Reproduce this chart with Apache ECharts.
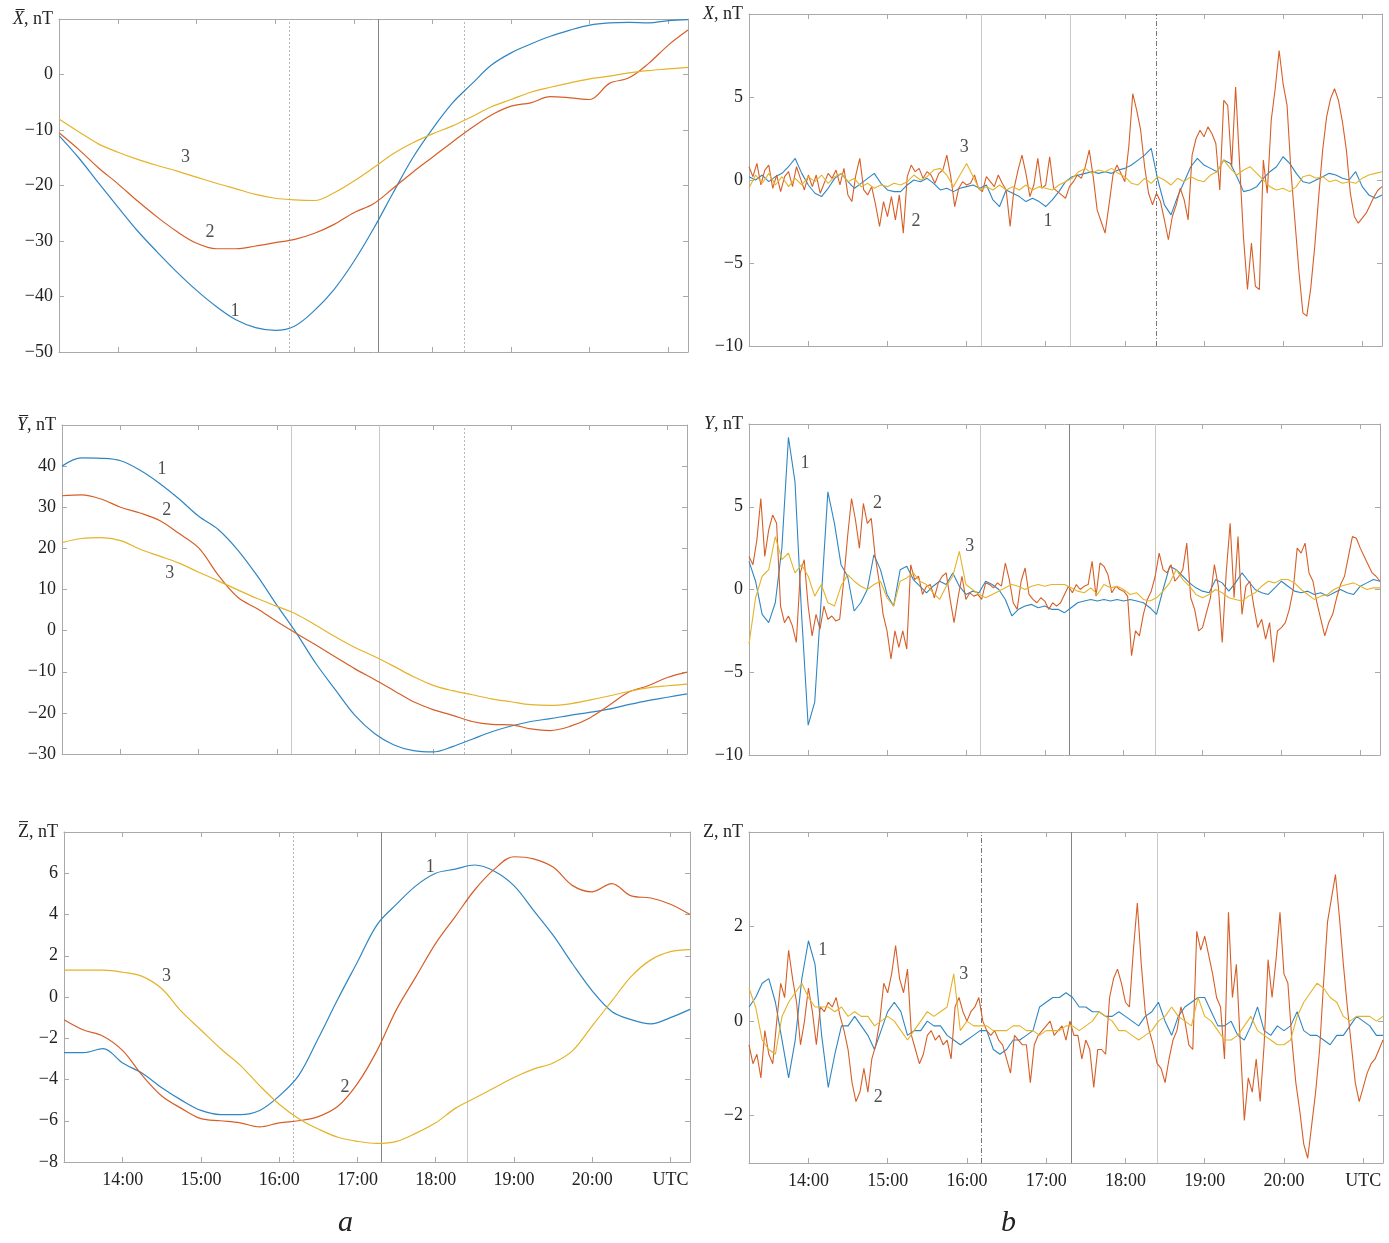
<!DOCTYPE html>
<html><head><meta charset="utf-8">
<script src="https://cdn.jsdelivr.net/npm/echarts@6/dist/echarts.min.js"></script>
<style>html,body{margin:0;padding:0;background:#fff}#c{width:1389px;height:1243px}</style>
</head><body><div id="c"></div>
<script>
// ---------- DATA ----------
const T0 = 13.25, T1 = 21.25;          // time span, hours UTC
const stepCoarse = 0.25;               // 15 min (panel a)
const stepMid = 1 / 12;                // 5 min
const stepFine = 0.05;                 // 3 min
const eventTimes = [16.18, 17.31, 18.40];
const hourTicks = [14, 15, 16, 17, 18, 19, 20, 21];
const hourLabels = ['14:00', '15:00', '16:00', '17:00', '18:00', '19:00', '20:00', 'UTC'];

// panel a : smoothed field (15-min samples)
const xBar1 = [-11.0,-15.0,-19.5,-23.9,-28.2,-32.0,-35.6,-38.9,-41.8,-44.2,-45.6,-46.1,-45.3,-42.5,-38.7,-33.7,-27.8,-21.3,-15.0,-9.8,-5.2,-1.7,1.7,3.9,5.5,6.9,8.0,8.9,9.3,9.4,9.3,9.7,9.9];
const xBar2 = [-10.5,-13.5,-16.8,-19.7,-22.8,-25.7,-28.3,-30.4,-31.4,-31.4,-30.9,-30.3,-29.7,-28.6,-27.0,-24.9,-23.3,-20.5,-17.6,-14.9,-12.2,-9.6,-7.3,-5.7,-5.1,-4.0,-4.2,-4.5,-1.6,-0.6,2.0,5.3,8.0];
const xBar3 = [-8.0,-10.3,-12.5,-14.0,-15.3,-16.4,-17.4,-18.5,-19.6,-20.6,-21.6,-22.3,-22.6,-22.7,-21.3,-19.2,-16.8,-14.3,-12.3,-10.7,-9.3,-7.6,-5.8,-4.5,-3.2,-2.3,-1.5,-0.8,-0.3,0.3,0.7,1.0,1.3];
const yBar1 = [40.0,42.0,41.9,41.3,39.0,35.8,32.0,27.8,24.6,19.6,13.3,6.2,-0.6,-8.0,-14.4,-20.6,-25.0,-27.8,-29.2,-29.5,-28.2,-26.4,-24.6,-23.2,-22.1,-21.4,-20.6,-19.9,-19.1,-18.0,-17.0,-16.2,-15.4];
const yBar2 = [32.8,33.0,32.0,30.0,28.6,26.8,23.6,20.1,13.5,8.1,5.3,2.2,-0.7,-3.5,-6.4,-9.3,-11.9,-14.6,-17.3,-19.2,-20.6,-22.1,-22.8,-22.9,-23.9,-24.3,-23.3,-21.3,-18.2,-15.0,-13.4,-11.4,-10.1];
const yBar3 = [21.4,22.4,22.6,21.9,19.8,18.1,16.4,14.2,12.1,9.9,7.8,5.9,4.0,1.3,-1.5,-4.1,-6.3,-8.7,-11.2,-13.3,-14.6,-15.6,-16.6,-17.3,-18.0,-18.2,-17.8,-16.9,-15.9,-14.8,-13.9,-13.4,-13.0];
const zBar1 = [-2.7,-2.7,-2.5,-3.2,-3.7,-4.4,-5.0,-5.5,-5.7,-5.7,-5.5,-4.8,-3.8,-2.0,-0.1,1.7,3.5,4.5,5.4,6.0,6.2,6.4,6.1,5.4,4.2,3.0,1.6,0.3,-0.7,-1.1,-1.3,-1.0,-0.6];
const zBar2 = [-1.1,-1.6,-1.9,-2.6,-3.8,-4.8,-5.4,-5.9,-6.0,-6.1,-6.3,-6.1,-6.0,-5.8,-5.3,-4.2,-2.6,-0.6,1.0,2.6,3.9,5.2,6.2,6.8,6.7,6.3,5.4,5.1,5.5,4.9,4.8,4.5,4.0];
const zBar3 = [1.3,1.3,1.3,1.2,1.0,0.4,-0.7,-1.6,-2.5,-3.3,-4.3,-5.2,-5.9,-6.4,-6.8,-7.0,-7.1,-7.0,-6.6,-6.1,-5.4,-4.9,-4.4,-3.9,-3.5,-3.2,-2.6,-1.4,-0.2,1.0,1.8,2.2,2.3];

// panel b : variations. series 1 & 3 at 5-min, series 2 at 3-min
const xVar1 = [0.2,0.0,0.3,-0.1,0.2,0.4,0.8,1.3,0.4,-0.3,-0.8,-1.0,
 -0.5,0.1,0.4,-0.1,-0.5,-0.2,0.1,0.4,-0.2,-0.6,-0.7,-0.7,
 -0.3,0.0,-0.1,0.1,-0.2,-0.6,-0.5,-0.7,-0.5,-0.4,-0.3,-0.5,
 -0.3,-1.2,-1.6,-0.6,-0.8,-1.0,-1.3,-1.1,-1.3,-1.6,-1.2,-0.7,
 -0.1,0.2,0.3,0.4,0.5,0.4,0.5,0.4,0.6,0.7,0.9,1.2,
 1.5,1.9,0.0,-1.5,-2.1,-1.0,-0.1,0.8,1.3,0.9,0.7,0.5,
 1.2,1.0,0.2,-0.7,-0.6,-0.4,0.1,0.5,0.8,1.4,1.0,0.4,
 -0.1,-0.2,0.0,0.2,0.4,0.3,0.1,0.0,0.5,-0.4,-0.9,-1.1,-0.9];
const xVar2 = [0.8,0.2,1.0,-0.3,0.6,0.9,-0.5,0.3,-0.7,0.2,0.5,-0.4,0.8,0.1,-0.6,0.3,
 -0.4,0.3,-0.8,-0.2,0.4,0.1,0.6,-0.3,0.7,-0.9,-1.3,0.3,1.3,-0.6,-0.9,-0.4,-1.5,-2.8,-1.3,-2.2,
 -1.0,-2.4,-0.9,-3.2,0.2,0.9,0.5,0.7,0.1,0.5,0.3,-0.2,0.4,0.6,1.5,0.2,-1.6,-0.5,-0.1,-0.3,
 -0.2,0.3,-0.5,-0.7,0.2,-0.1,-0.4,0.3,-0.2,-0.6,-2.8,-0.5,0.6,1.5,0.4,-1.0,-0.3,1.3,-0.5,-0.3,
 1.4,-0.5,-0.7,-0.9,-1.1,-0.4,-0.1,0.3,0.1,0.8,1.8,0.2,-1.8,-2.5,-3.2,-1.5,0.3,0.9,0.4,-0.1,
 2.0,5.2,4.2,3.0,0.8,-0.8,-1.5,-0.8,-1.3,-2.4,-3.6,-2.2,-1.5,-0.5,-1.2,-2.4,1.5,2.5,3.0,2.6,
 3.2,2.8,2.2,-0.6,4.8,4.5,0.8,5.6,1.0,-3.5,-6.6,-3.8,-6.4,-6.6,1.2,-0.8,3.6,5.5,7.8,5.8,
 4.5,0.5,-2.5,-5.5,-8.0,-8.2,-6.5,-4.0,-1.0,1.8,3.8,4.9,5.5,4.8,3.5,1.8,-0.8,-2.2,-2.6,-2.3,-2.0,-1.5,-1.0,-0.6,-0.4];
const xVar3 = [-0.5,0.3,-0.2,0.4,-0.3,0.2,-0.4,0.1,-0.3,0.2,-0.1,0.3,
 -0.2,0.2,0.4,-0.1,0.1,-0.4,-0.2,-0.5,-0.3,-0.4,-0.2,-0.3,
 -0.1,0.3,0.0,0.2,0.6,0.7,0.3,-0.4,0.3,1.0,0.2,-0.6,
 -0.4,-0.6,-0.3,-0.6,-0.4,-0.6,-0.3,-0.6,-0.4,-0.5,-0.6,-0.3,
 -0.1,0.1,0.5,0.7,0.4,0.6,0.5,0.7,0.4,0.2,-0.2,-0.3,
 0.1,-0.2,0.2,0.0,-0.3,0.1,-0.1,0.2,0.0,-0.1,0.3,0.5,
 1.2,0.7,0.3,0.6,0.8,0.4,0.0,-0.4,-0.6,-0.5,-0.7,-0.4,
 0.2,0.3,0.1,0.2,-0.1,0.0,-0.2,-0.1,-0.2,0.1,0.3,0.4,0.5];
const yVar1 = [1.7,0.5,-1.5,-2.0,-0.8,2.5,9.2,6.5,-1.5,-8.2,-6.8,-0.5,
 5.9,4.0,1.5,0.8,-1.3,-0.8,0.0,2.1,1.2,-0.3,-1.0,1.2,
 1.4,0.6,0.2,-0.2,0.2,0.5,0.3,1.0,0.2,-0.3,-0.1,-0.2,
 0.5,0.3,0.0,-0.6,-1.6,-1.2,-1.0,-0.9,-1.1,-1.0,-1.2,-1.2,
 -1.4,-1.1,-0.8,-0.7,-0.6,-0.7,-0.6,-0.7,-0.6,-0.7,-0.6,-0.7,
 -0.8,-1.1,-1.5,0.0,1.4,1.2,0.8,0.4,0.1,-0.1,-0.2,0.6,
 0.4,-0.1,0.4,1.0,0.5,0.0,-0.2,-0.3,0.1,0.5,0.2,-0.1,
 -0.2,-0.1,-0.3,-0.2,-0.4,-0.2,0.0,-0.2,-0.3,0.2,0.4,0.6,0.5];
const yVar2 = [2.0,1.5,3.0,5.5,2.0,3.6,4.5,4.0,-1.0,-2.0,-1.6,-2.2,-3.2,1.0,1.8,-1.0,
 -2.8,-1.5,-2.4,-1.0,-1.8,-1.6,-1.9,-1.8,0.5,3.2,5.5,4.2,2.5,5.2,4.0,4.3,2.0,0.5,-1.5,-2.5,
 -4.2,-2.5,-3.5,-2.5,-3.6,1.5,0.6,0.8,-0.3,0.2,0.3,-0.5,0.4,0.8,1.0,-0.6,-2.0,-0.5,0.8,-0.6,
 -0.2,-0.4,-0.3,-0.6,0.4,0.3,0.1,0.4,0.2,1.6,0.6,-0.8,-1.2,0.5,1.3,-0.3,-0.6,-0.8,-0.5,-0.7,
 -1.2,-0.8,-1.0,-0.8,-0.3,0.2,-0.2,0.3,0.0,0.2,0.3,1.7,-0.4,1.6,1.4,0.9,-0.2,0.2,0.0,-0.1,
 -0.4,-4.0,-2.5,-2.8,-1.5,-0.6,-0.1,0.8,2.2,1.2,1.0,1.5,0.5,0.8,1.2,2.8,-0.5,-1.2,-2.5,-2.3,
 -1.4,-0.5,1.5,0.2,-3.2,1.0,4.0,-0.5,3.2,-1.5,0.2,0.5,-1.0,-2.3,-1.8,-3.0,-2.0,-4.4,-2.5,-2.3,
 -2.0,-1.2,0.0,2.5,2.2,2.8,1.0,0.5,-0.8,-1.8,-2.8,-2.0,-1.5,-0.5,0.3,0.8,2.0,3.2,3.1,2.5,2.0,1.5,1.0,0.8,0.5];
const yVar3 = [-3.3,-0.5,0.8,1.2,3.2,1.8,2.2,1.0,1.5,0.8,-0.4,0.3,
 -0.8,-1.0,0.2,0.9,0.5,0.2,0.0,0.3,0.5,-0.5,-1.0,0.5,
 0.7,1.0,0.5,0.3,-0.2,-0.6,0.2,0.8,2.3,0.3,0.0,-0.3,
 -0.5,-0.3,-0.1,0.1,0.3,0.2,0.0,0.2,0.3,0.2,0.3,0.3,
 0.3,0.1,-0.1,-0.2,0.1,-0.3,0.3,0.1,0.2,0.0,-0.3,-0.2,
 -0.6,-0.7,-0.5,-0.1,0.4,1.2,0.6,0.2,-0.3,-0.5,-0.3,0.0,
 -0.2,-0.5,-0.6,-0.7,-0.4,-0.2,0.2,0.5,0.4,0.6,0.6,0.4,
 0.0,-0.3,-0.6,-0.4,-0.3,0.0,0.2,0.3,0.4,0.2,0.0,0.1,0.1];
const zVar1 = [0.3,0.5,0.8,0.9,0.4,-0.4,-1.2,-0.4,0.9,1.7,1.2,-0.3,
 -1.4,-0.7,-0.1,-0.1,0.1,-0.1,-0.3,-0.6,-0.2,0.2,0.4,0.2,
 -0.3,-0.2,-0.2,0.0,-0.1,-0.1,-0.3,-0.4,-0.5,-0.4,-0.3,-0.2,
 -0.2,-0.6,-0.7,-0.6,-0.4,-0.4,-0.3,-0.2,0.3,0.4,0.5,0.5,
 0.6,0.5,0.3,0.3,0.2,0.2,0.1,0.1,0.2,0.1,0.0,-0.1,
 0.1,0.2,0.4,0.0,-0.3,0.1,0.3,0.4,0.5,0.5,0.2,-0.1,
 -0.1,0.0,-0.3,-0.4,-0.1,0.3,-0.2,-0.3,-0.1,-0.2,-0.1,0.2,
 -0.2,-0.3,-0.3,-0.4,-0.5,-0.3,-0.3,-0.1,0.1,0.0,-0.1,-0.3,-0.3];
const zVar2 = [-0.5,-0.9,-0.7,-1.2,-0.2,-0.7,-0.9,0.0,0.8,0.5,1.5,0.9,0.4,-0.5,0.0,0.7,
 0.2,-0.5,0.3,0.2,0.4,0.3,0.5,0.1,-0.2,-0.6,-1.3,-1.7,-1.5,-1.0,-1.5,-0.8,-0.5,0.0,0.8,0.6,
 1.0,1.6,0.9,0.6,1.1,-0.3,-0.6,-0.9,-0.7,-0.3,-0.2,-0.4,-0.3,-0.5,-0.4,-0.8,0.3,0.5,0.2,0.0,
 0.2,0.3,0.5,0.0,-0.2,-0.3,-0.2,-0.4,-0.5,-0.8,-1.1,-0.3,-0.4,-0.5,-0.5,-1.3,-0.5,-0.3,-0.2,-0.1,
 0.0,-0.3,-0.2,-0.1,-0.4,0.0,-0.3,-0.3,-0.8,-0.4,-0.6,-1.4,-0.6,-0.6,-0.7,0.5,0.9,1.1,0.8,0.4,
 0.3,1.5,2.5,1.2,0.2,-0.2,-0.5,-0.9,-1.0,-1.3,-0.8,-0.4,-0.2,0.3,0.0,-0.5,-0.6,1.9,1.5,1.8,
 1.4,1.0,0.5,0.3,-0.8,2.3,0.5,1.2,-0.5,-2.1,-1.2,-1.5,-0.8,-1.7,-0.5,1.3,0.5,1.3,2.3,1.0,
 0.8,-0.4,-1.3,-1.9,-2.6,-2.9,-2.2,-1.5,-0.6,0.8,2.1,2.6,3.1,2.2,1.2,0.3,-0.5,-1.3,-1.7,-1.4,-1.1,-0.9,-0.8,-0.6,-0.4];
const zVar3 = [0.7,0.3,-0.4,-0.6,-0.7,0.1,0.4,0.6,0.8,0.5,0.3,0.3,
 0.3,0.2,0.3,0.1,0.2,0.1,0.1,-0.1,0.0,0.1,0.0,-0.2,
 -0.4,-0.2,0.0,0.2,0.1,0.2,0.3,1.0,-0.2,0.0,-0.1,-0.1,
 -0.1,-0.2,-0.2,-0.2,-0.1,-0.1,-0.2,-0.2,-0.3,-0.2,-0.2,-0.2,
 -0.1,-0.1,-0.2,-0.1,0.0,0.2,0.1,0.0,-0.2,-0.2,-0.3,-0.4,
 -0.3,-0.2,0.0,0.1,0.3,0.1,0.0,-0.1,0.5,0.1,0.0,-0.2,
 -0.4,-0.4,-0.3,-0.1,0.1,-0.2,-0.3,-0.4,-0.5,-0.5,-0.4,0.1,
 0.4,0.6,0.8,0.7,0.5,0.4,0.1,0.0,0.1,0.1,0.1,0.0,0.1];

// curve number annotations: [time, value, text]
const lblXa = [[15.49,-42.6,'1'],[15.17,-28.4,'2'],[14.86,-14.9,'3']];
const lblYa = [[14.53,39.2,'1'],[14.59,29.3,'2'],[14.63,14.0,'3']];
const lblZa = [[17.93,6.3,'1'],[16.84,-4.4,'2'],[14.56,1.0,'3']];
const lblXb = [[17.03,-2.5,'1'],[15.36,-2.5,'2'],[15.97,2.0,'3']];
const lblYb = [[13.96,7.6,'1'],[14.88,5.2,'2'],[16.05,2.6,'3']];
const lblZb = [[14.18,1.5,'1'],[14.88,-1.6,'2'],[15.96,1.0,'3']];

// ---------- STYLE ----------
const C = ['#2f86c2', '#d65f28', '#e5b329'];
const FONT = '"Liberation Serif","Times New Roman",serif';
const AX = '#a9a9a9';
const LS = {
  light:   {color: '#c9c9c9', width: 1, type: 'solid'},
  dotted:  {color: '#b8b8b8', width: 1, type: [2, 2]},
  dark:    {color: '#858585', width: 1, type: 'solid'},
  dashdot: {color: '#777777', width: 1, type: [5, 2, 1, 2]}
};
const panels = [
  {grid:{left:59,top:19,width:629,height:333}, min:-50,max:10,ticks:[-50,-40,-30,-20,-10,0],
   name:'{it|X\u0305}{n|, nT}', s:[xBar1,xBar2,xBar3], steps:[stepCoarse,stepCoarse,stepCoarse], smooth:0.35, lw:1.2,
   lbl:lblXa, lines:[LS.dotted,LS.dark,LS.dotted], showX:false},
  {grid:{left:62,top:425,width:625,height:329}, min:-30,max:50,ticks:[-30,-20,-10,0,10,20,30,40],
   name:'{it|Y\u0305}{n|, nT}', s:[yBar1,yBar2,yBar3], steps:[stepCoarse,stepCoarse,stepCoarse], smooth:0.35, lw:1.2,
   lbl:lblYa, lines:[LS.light,LS.light,LS.dotted], showX:false},
  {grid:{left:64,top:832,width:626,height:330}, min:-8,max:8,ticks:[-8,-6,-4,-2,0,2,4,6],
   name:'{n|Z\u0305, nT}', s:[zBar1,zBar2,zBar3], steps:[stepCoarse,stepCoarse,stepCoarse], smooth:0.35, lw:1.2,
   lbl:lblZa, lines:[LS.dotted,LS.dark,LS.light], showX:true},
  {grid:{left:749,top:14,width:633,height:332}, min:-10,max:10,ticks:[-10,-5,0,5],
   name:'{it|X}{n|, nT}', s:[xVar1,xVar2,xVar3], steps:[stepMid,stepFine,stepMid], smooth:false, lw:1.1,
   lbl:lblXb, lines:[LS.light,LS.light,LS.dashdot], showX:false},
  {grid:{left:749,top:424,width:631,height:331}, min:-10,max:10,ticks:[-10,-5,0,5],
   name:'{it|Y}{n|, nT}', s:[yVar1,yVar2,yVar3], steps:[stepMid,stepFine,stepMid], smooth:false, lw:1.1,
   lbl:lblYb, lines:[LS.light,LS.dark,LS.light], showX:false},
  {grid:{left:749,top:832,width:634,height:331}, min:-3,max:4,ticks:[-2,0,2],
   name:'{n|Z, nT}', s:[zVar1,zVar2,zVar3], steps:[stepMid,stepFine,stepMid], smooth:false, lw:1.1,
   lbl:lblZb, lines:[LS.dashdot,LS.dark,LS.light], showX:true}
];

const fmtNum = v => (v < 0 ? '\u2212' + Math.abs(v) : String(v));
const rich = {
  it: {fontFamily: FONT, fontSize: 18, fontStyle: 'italic', color: '#222'},
  n:  {fontFamily: FONT, fontSize: 18, color: '#222'}
};

const grids = [], xAxes = [], yAxes = [], series = [];
panels.forEach((p, gi) => {
  grids.push(Object.assign({containLabel: false}, p.grid));
  xAxes.push({
    gridIndex: gi, type: 'value', min: T0, max: T1, position: 'bottom',
    axisLine: {show: true, onZero: false, lineStyle: {color: AX}},
    axisTick: {show: true, inside: true, length: 5, customValues: hourTicks, lineStyle: {color: AX}},
    axisLabel: {show: p.showX, customValues: hourTicks, margin: 9, fontFamily: FONT, fontSize: 18, color: '#222',
      formatter: v => hourLabels[hourTicks.indexOf(Math.round(v))]},
    splitLine: {show: false}
  });
  xAxes.push({
    gridIndex: gi, type: 'value', min: T0, max: T1, position: 'top',
    axisLine: {show: true, onZero: false, lineStyle: {color: AX}},
    axisTick: {show: true, inside: true, length: 5, customValues: hourTicks, lineStyle: {color: AX}},
    axisLabel: {show: false}, splitLine: {show: false}
  });
  yAxes.push({
    gridIndex: gi, type: 'value', min: p.min, max: p.max, position: 'left',
    axisLine: {show: true, onZero: false, lineStyle: {color: AX}},
    axisTick: {show: true, inside: true, length: 5, customValues: p.ticks, lineStyle: {color: AX}},
    axisLabel: {show: true, customValues: p.ticks.concat([p.max]), margin: 6, fontFamily: FONT, fontSize: 18, color: '#222',
      formatter: v => (v === p.max ? p.name : fmtNum(v)), rich: rich},
    splitLine: {show: false}
  });
  yAxes.push({
    gridIndex: gi, type: 'value', min: p.min, max: p.max, position: 'right',
    axisLine: {show: true, onZero: false, lineStyle: {color: AX}},
    axisTick: {show: true, inside: true, length: 5, customValues: p.ticks, lineStyle: {color: AX}},
    axisLabel: {show: false}, splitLine: {show: false}
  });
  p.s.forEach((vals, si) => {
    const ser = {
      type: 'line', xAxisIndex: 2 * gi, yAxisIndex: 2 * gi,
      data: vals.map((v, i) => [T0 + i * p.steps[si], v]),
      showSymbol: false, symbol: 'none', smooth: p.smooth, silent: true,
      lineStyle: {color: C[si], width: p.lw}, itemStyle: {color: C[si]}, z: 3 + si
    };
    if (si === 0) {
      ser.markLine = {
        silent: true, symbol: ['none', 'none'], label: {show: false}, z: 1,
        data: eventTimes.map((t, k) => ({xAxis: t, lineStyle: p.lines[k]}))
      };
    }
    series.push(ser);
  });
  series.push({
    type: 'scatter', xAxisIndex: 2 * gi, yAxisIndex: 2 * gi, symbolSize: 1, silent: true, z: 10,
    itemStyle: {color: 'rgba(0,0,0,0)'},
    data: p.lbl.map(d => ({value: [d[0], d[1]], name: d[2]})),
    label: {show: true, position: 'inside', formatter: '{b}', fontFamily: FONT, fontSize: 18, color: '#222'}
  });
});

const chart = echarts.init(document.getElementById('c'), null, {renderer: 'canvas'});
chart.setOption({
  animation: false,
  backgroundColor: '#fff',
  grid: grids, xAxis: xAxes, yAxis: yAxes, series: series,
  graphic: [
    {type: 'text', left: 338, top: 1208, style: {text: 'a', font: 'italic 30px ' + FONT, fill: '#222'}},
    {type: 'text', left: 1001, top: 1208, style: {text: 'b', font: 'italic 30px ' + FONT, fill: '#222'}}
  ]
});
</script>
</body></html>
